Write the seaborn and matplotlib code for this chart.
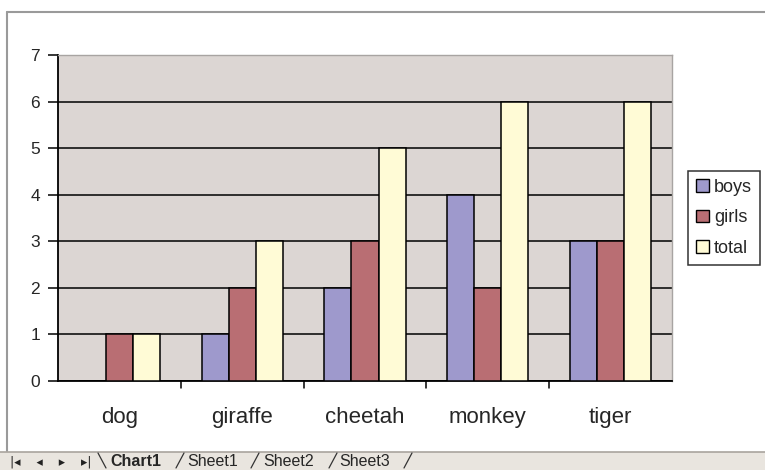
import matplotlib as mpl, numpy as np, pandas as pd
import matplotlib.pyplot as plt
from matplotlib.lines import Line2D
from matplotlib.patches import Rectangle
import seaborn as sns

# data
animals = ['dog', 'giraffe', 'cheetah', 'monkey', 'tiger']
boys = [0, 1, 2, 4, 3]
girls = [1, 2, 3, 2, 3]
total = [1, 3, 5, 6, 6]
series = ['boys', 'girls', 'total']
colors = ['#9E99CC', '#B96E73', '#FFFBD6']
yticks = [0, 1, 2, 3, 4, 5, 6, 7]

df = pd.DataFrame({'animal': animals, 'boys': boys, 'girls': girls, 'total': total})
df = df.melt(id_vars='animal', var_name='who', value_name='count')

sns.set_style('white')
plt.rcParams['font.family'] = ['Liberation Sans', 'DejaVu Sans']

fig = plt.figure(figsize=(7.65, 4.70), dpi=100)
ax = fig.add_axes([58/765, 89/470, 614/765, 326/470])
ax.set_facecolor('#DCD6D3')

sns.barplot(data=df, x='animal', y='count', hue='who', hue_order=series,
            palette=colors, width=0.66, gap=0, edgecolor='black',
            linewidth=1.1, saturation=1, ax=ax, legend=False, zorder=3)

ax.set_ylim(0, 7)
ax.set_xlim(-0.5, 4.5)
ax.set_yticks(yticks)
ax.yaxis.grid(True, color='black', linewidth=1.1, zorder=1)
ax.set_axisbelow(True)
ax.set_xlabel('')
ax.set_ylabel('')

# category labels between boundary ticks
ax.set_xticks(np.arange(len(animals)))
ax.set_xticklabels(animals, fontsize=16)
ax.tick_params(axis='x', length=0, pad=19)
for b in np.arange(0.5, 4.5, 1):
    ax.add_line(Line2D([b, b], [0, -0.15], color='black', lw=1.1,
                       transform=ax.transData, clip_on=False))
ax.tick_params(axis='y', length=7, width=1.1, color='black', direction='out',
               labelsize=12.5, pad=6, left=True)

for s in ['left', 'bottom']:
    ax.spines[s].set_color('black')
    ax.spines[s].set_linewidth(1.3)
for s in ['top', 'right']:
    ax.spines[s].set_color('#A8A4A2')
    ax.spines[s].set_linewidth(1)

# legend
handles = [Rectangle((0, 0), 1, 1, facecolor=c, edgecolor='black', lw=1) for c in colors]
leg = fig.legend(handles, series, loc='center left', bbox_to_anchor=(688/765, 1 - 218/470),
                 fontsize=13, frameon=True, fancybox=False, handlelength=0.7,
                 handleheight=0.7, handletextpad=0.3, borderpad=0.45, labelspacing=0.75,
                 borderaxespad=0)
leg.get_frame().set_edgecolor('black')
leg.get_frame().set_linewidth(1.1)

# outer chart frame
fig.add_artist(Line2D([7/765, 7/765], [1 - 12/470, 1 - 451/470], color='#9A9A9A', lw=1.5))
fig.add_artist(Line2D([7/765, 1], [1 - 12/470, 1 - 12/470], color='#9A9A9A', lw=1.5))

# sheet tab bar
fig.add_artist(Rectangle((0, 0), 1, 18/470, facecolor='#E9E5DF', edgecolor='none',
                         transform=fig.transFigure))
fig.add_artist(Line2D([0, 1], [18/470, 18/470], color='#A9A49E', lw=1.2))
fig.text(10/765, 8/470, '|◂    ◂    ▸    ▸|', fontsize=9, va='center', ha='left',
         family=['DejaVu Sans'], color='#222222')
fig.text(110/765, 8/470, 'Chart1', fontsize=11.5, fontweight='bold', va='center', ha='left')
for i, name in enumerate(['Sheet1', 'Sheet2', 'Sheet3']):
    fig.text((187 + i * 76)/765, 8/470, name, fontsize=11.5, va='center', ha='left')
# active tab opens with a backslash, the rest with slashes
fig.add_artist(Line2D([98/765, 106/765], [17/470, 2/470], color='#333333', lw=0.9))
for x0 in [176, 251, 329, 404]:
    fig.add_artist(Line2D([x0/765, (x0 + 8)/765], [2/470, 17/470], color='#333333', lw=0.9))

fig.savefig('out.png', dpi=100)
